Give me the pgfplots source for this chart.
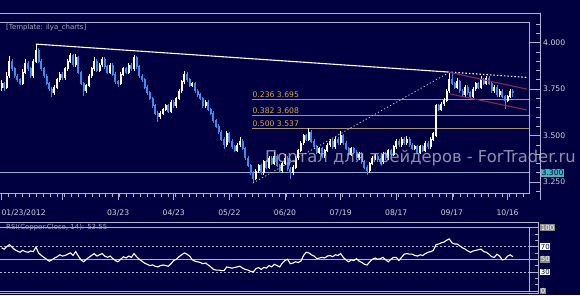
\documentclass[border=0pt]{standalone}
\usepackage{pgfplots}
\pgfplotsset{compat=1.18}
\usepackage{pgfplotstable}
\usepackage{fontspec}
\setmainfont{DejaVu Sans}
\definecolor{bg}{HTML}{000040}
\definecolor{frame}{HTML}{B0B0D0}
\definecolor{upc}{HTML}{FFFFFF}
\definecolor{dnc}{HTML}{3A8EEA}
\definecolor{fibline}{HTML}{A89274}
\definecolor{fibtext}{HTML}{D8A848}
\definecolor{chan}{HTML}{8C2850}
\definecolor{supp}{HTML}{8CB0D0}
\definecolor{tag}{HTML}{40B8C0}
\definecolor{txt}{HTML}{D0D0E0}
\definecolor{txt2}{HTML}{A8A8C8}
\definecolor{labgray}{HTML}{8A8A8A}
\newcommand\tickfont{\fontsize{7.7}{8}\selectfont}
\newcommand\smallfont{\fontsize{7}{8}\selectfont}
\setlength\fboxsep{0.7bp}
\newcommand\gb[1]{\colorbox{labgray}{\textcolor{white}{#1}}}
\newcommand\wb[1]{\colorbox{white}{\textcolor{bg}{#1}}}

\pgfplotstableread{
i o h l c
0 3.76 3.80 3.74 3.78
1 3.78 3.79 3.74 3.76
2 3.76 3.84 3.75 3.82
3 3.82 3.93 3.81 3.90
4 3.90 3.91 3.85 3.86
5 3.86 3.87 3.81 3.82
6 3.82 3.83 3.79 3.80
7 3.80 3.81 3.77 3.78
8 3.78 3.86 3.77 3.84
9 3.84 3.91 3.83 3.89
10 3.89 3.90 3.85 3.86
11 3.86 3.87 3.81 3.82
12 3.82 3.91 3.81 3.90
13 3.90 3.99 3.89 3.96
14 3.96 3.97 3.89 3.90
15 3.90 3.91 3.85 3.86
16 3.86 3.87 3.81 3.82
17 3.82 3.83 3.77 3.78
18 3.78 3.79 3.74 3.75
19 3.75 3.76 3.71 3.73
20 3.73 3.77 3.72 3.76
21 3.76 3.81 3.75 3.80
22 3.80 3.84 3.79 3.83
23 3.83 3.84 3.80 3.81
24 3.81 3.87 3.80 3.86
25 3.86 3.91 3.85 3.90
26 3.90 3.945 3.89 3.93
27 3.93 3.94 3.87 3.88
28 3.88 3.94 3.87 3.92
29 3.92 3.93 3.83 3.84
30 3.84 3.85 3.77 3.78
31 3.78 3.79 3.715 3.74
32 3.74 3.78 3.73 3.77
33 3.77 3.83 3.76 3.82
34 3.82 3.87 3.81 3.86
35 3.86 3.92 3.85 3.90
36 3.90 3.91 3.84 3.85
37 3.85 3.89 3.84 3.88
38 3.88 3.92 3.87 3.91
39 3.91 3.92 3.86 3.87
40 3.87 3.88 3.83 3.84
41 3.84 3.89 3.83 3.88
42 3.88 3.89 3.82 3.83
43 3.83 3.84 3.78 3.79
44 3.79 3.80 3.76 3.78
45 3.78 3.84 3.77 3.83
46 3.83 3.87 3.82 3.86
47 3.86 3.87 3.83 3.84
48 3.84 3.89 3.83 3.88
49 3.88 3.89 3.85 3.86
50 3.86 3.935 3.85 3.92
51 3.92 3.93 3.86 3.87
52 3.87 3.88 3.81 3.82
53 3.82 3.83 3.79 3.80
54 3.80 3.81 3.75 3.76
55 3.76 3.77 3.72 3.73
56 3.73 3.74 3.69 3.70
57 3.70 3.71 3.65 3.66
58 3.66 3.67 3.61 3.62
59 3.62 3.63 3.575 3.60
60 3.60 3.63 3.59 3.62
61 3.62 3.65 3.61 3.64
62 3.64 3.67 3.63 3.66
63 3.66 3.67 3.62 3.63
64 3.63 3.69 3.62 3.68
65 3.68 3.69 3.65 3.66
66 3.66 3.71 3.65 3.70
67 3.70 3.75 3.69 3.74
68 3.74 3.80 3.73 3.79
69 3.79 3.845 3.78 3.83
70 3.83 3.84 3.79 3.80
71 3.80 3.81 3.76 3.77
72 3.77 3.79 3.76 3.78
73 3.78 3.79 3.73 3.74
74 3.74 3.75 3.71 3.72
75 3.72 3.73 3.69 3.70
76 3.70 3.71 3.65 3.66
77 3.66 3.69 3.65 3.68
78 3.68 3.69 3.63 3.64
79 3.64 3.65 3.61 3.62
80 3.62 3.63 3.57 3.58
81 3.58 3.59 3.54 3.55
82 3.55 3.56 3.51 3.52
83 3.52 3.53 3.47 3.48
84 3.48 3.49 3.43 3.45
85 3.45 3.525 3.44 3.51
86 3.51 3.52 3.46 3.47
87 3.47 3.48 3.43 3.44
88 3.44 3.45 3.41 3.42
89 3.42 3.46 3.41 3.45
90 3.45 3.49 3.44 3.47
91 3.47 3.48 3.42 3.43
92 3.43 3.44 3.37 3.38
93 3.38 3.39 3.33 3.34
94 3.34 3.35 3.29 3.30
95 3.30 3.31 3.245 3.27
96 3.27 3.32 3.26 3.31
97 3.31 3.35 3.30 3.34
98 3.34 3.35 3.29 3.30
99 3.30 3.37 3.29 3.36
100 3.36 3.37 3.32 3.33
101 3.33 3.39 3.32 3.38
102 3.38 3.39 3.34 3.35
103 3.35 3.41 3.34 3.39
104 3.39 3.40 3.33 3.34
105 3.34 3.35 3.30 3.31
106 3.31 3.36 3.30 3.35
107 3.35 3.40 3.34 3.38
108 3.38 3.39 3.31 3.32
109 3.32 3.33 3.265 3.30
110 3.30 3.34 3.29 3.33
111 3.33 3.39 3.32 3.38
112 3.38 3.43 3.37 3.42
113 3.42 3.47 3.41 3.46
114 3.46 3.51 3.45 3.50
115 3.50 3.51 3.47 3.48
116 3.48 3.54 3.47 3.52
117 3.52 3.53 3.46 3.47
118 3.47 3.48 3.43 3.44
119 3.44 3.45 3.40 3.41
120 3.41 3.44 3.40 3.43
121 3.43 3.44 3.38 3.39
122 3.39 3.43 3.38 3.42
123 3.42 3.46 3.41 3.45
124 3.45 3.48 3.44 3.47
125 3.47 3.48 3.43 3.44
126 3.44 3.49 3.43 3.48
127 3.48 3.49 3.45 3.46
128 3.46 3.525 3.45 3.50
129 3.50 3.51 3.45 3.46
130 3.46 3.47 3.42 3.43
131 3.43 3.44 3.39 3.40
132 3.40 3.44 3.39 3.43
133 3.43 3.44 3.40 3.41
134 3.41 3.42 3.37 3.38
135 3.38 3.41 3.37 3.40
136 3.40 3.41 3.35 3.36
137 3.36 3.37 3.32 3.33
138 3.33 3.34 3.29 3.31
139 3.31 3.36 3.30 3.35
140 3.35 3.39 3.34 3.38
141 3.38 3.40 3.37 3.39
142 3.39 3.40 3.36 3.37
143 3.37 3.38 3.35 3.36
144 3.36 3.41 3.35 3.40
145 3.40 3.41 3.37 3.38
146 3.38 3.43 3.37 3.42
147 3.42 3.43 3.39 3.40
148 3.40 3.45 3.39 3.44
149 3.44 3.48 3.43 3.47
150 3.47 3.48 3.44 3.45
151 3.45 3.49 3.44 3.48
152 3.48 3.49 3.45 3.46
153 3.46 3.50 3.45 3.48
154 3.48 3.49 3.44 3.45
155 3.45 3.46 3.42 3.43
156 3.43 3.45 3.42 3.44
157 3.44 3.45 3.40 3.41
158 3.41 3.45 3.40 3.44
159 3.44 3.45 3.41 3.42
160 3.42 3.47 3.41 3.46
161 3.46 3.47 3.43 3.44
162 3.44 3.49 3.43 3.48
163 3.48 3.52 3.47 3.51
164 3.50 3.67 3.49 3.66
165 3.66 3.67 3.63 3.64
166 3.64 3.68 3.63 3.67
167 3.67 3.70 3.66 3.69
168 3.69 3.75 3.68 3.74
169 3.74 3.84 3.73 3.80
170 3.80 3.835 3.77 3.78
171 3.78 3.79 3.75 3.76
172 3.76 3.81 3.75 3.79
173 3.79 3.80 3.73 3.74
174 3.74 3.75 3.71 3.72
175 3.72 3.77 3.71 3.76
176 3.76 3.77 3.72 3.73
177 3.73 3.74 3.70 3.71
178 3.71 3.76 3.70 3.75
179 3.75 3.79 3.74 3.78
180 3.78 3.79 3.75 3.76
181 3.76 3.82 3.75 3.80
182 3.80 3.81 3.77 3.78
183 3.78 3.82 3.77 3.81
184 3.81 3.82 3.77 3.78
185 3.78 3.79 3.73 3.74
186 3.74 3.77 3.73 3.76
187 3.76 3.77 3.71 3.72
188 3.72 3.75 3.71 3.74
189 3.74 3.75 3.70 3.71
190 3.71 3.72 3.645 3.69
191 3.69 3.72 3.68 3.71
192 3.71 3.75 3.70 3.74
193 3.74 3.75 3.71 3.73
}\prices

\pgfplotstableread{
i r
0 68
1 66
2 70
3 73
4 69
5 65
6 63
7 61
8 64
9 62
10 61
11 63
12 62
13 69
14 60
15 56
16 53
17 50
18 47
19 49
20 52
21 54
22 57
23 55
24 56
25 58
26 60
27 56
28 62
29 55
30 49
31 46
32 50
33 53
34 56
35 59
36 55
37 57
38 59
39 55
40 53
41 55
42 51
43 48
44 46
45 50
46 54
47 52
48 55
49 53
50 59
51 54
52 50
53 47
54 44
55 42
56 40
57 41
58 39
59 38
60 40
61 41
62 40
63 39
64 43
65 48
66 50
67 54
68 57
69 60
70 58
71 55
72 49
73 47
74 46
75 45
76 43
77 44
78 41
79 38
80 34
81 33
82 33
83 32
84 32
85 38
86 37
87 36
88 37
89 38
90 39
91 36
92 34
93 33
94 31
95 30
96 35
97 37
98 34
99 37
100 36
101 40
102 38
103 42
104 40
105 38
106 44
107 48
108 50
109 43
110 44
111 46
112 45
113 47
114 56
115 61
116 60
117 57
118 55
119 51
120 52
121 53
122 52
123 55
124 56
125 54
126 57
127 56
128 59
129 53
130 49
131 46
132 49
133 48
134 51
135 47
136 45
137 42
138 41
139 46
140 50
141 52
142 50
143 51
144 53
145 49
146 46
147 50
148 53
149 53
150 48
151 53
152 58
153 59
154 58
155 58
156 56
157 55
158 57
159 56
160 59
161 61
162 62
163 64
164 73
165 74
166 76
167 77
168 80
169 82
170 76
171 74
172 74
173 71
174 68
175 66
176 63
177 61
178 63
179 64
180 65
181 66
182 62
183 61
184 58
185 54
186 53
187 58
188 55
189 49
190 50
191 55
192 57
193 54
}\rsi

\begin{document}
\begin{tikzpicture}[x=1bp,y=1bp]
\fill[bg] (0,0) rectangle (580,-295);
\useasboundingbox (0,0) rectangle (580,-295);

% ---- x tick axis for price pane
\begin{axis}[
  at={(0bp,-193bp)}, anchor=south west,
  scale only axis, width=529bp, height=171bp,
  xmin=-0.57, xmax=199.1, ymin=0, ymax=1,
  axis x line*=bottom, axis y line=none,
  axis line style={draw=none},
  xtick={0,23,44,65,86,107,128,149,170,191},
  xticklabels={\rlap{01/23/2012},,03/23,04/23,05/22,06/20,07/19,08/17,09/17,10/16},
  minor xtick={0,2.625,...,199},
  tick align=outside, major tick length=7bp, minor tick length=4bp,
  tick style={frame, line width=0.7bp},
  xticklabel style={font=\tickfont, text=txt, anchor=north, inner sep=0pt, yshift=-9.5bp},
]
\end{axis}

% ---- price pane
\begin{axis}[
  at={(0bp,-193bp)}, anchor=south west,
  scale only axis, width=529bp, height=171bp,
  xmin=-0.57, xmax=199.1, ymin=3.1914, ymax=4.1108,
  axis line style={draw=none},
  xtick=\empty,
  ytick={3.25,3.5,3.75,4.0},
  yticklabels={3.250,3.500,3.750,4.000},
  minor ytick={3.2,3.25,...,4.1},
  ytick pos=right, yticklabel pos=right,
  tick align=outside,
  major tick length=11bp, minor tick length=4bp,
  tick style={frame, line width=0.7bp},
  minor y tick style={xshift=7bp},
  yticklabel style={font=\tickfont, text=txt, anchor=west, inner sep=0pt, xshift=3bp},
  clip mode=individual,
]
\addplot[supp, line width=0.9bp, forget plot] coordinates {(-0.57,3.30) (199.1,3.30)};
\addplot[fibline, line width=0.9bp, forget plot] coordinates {(94.5,3.695) (199.1,3.695)};
\addplot[fibline, line width=0.9bp, forget plot] coordinates {(94.5,3.608) (199.1,3.608)};
\addplot[fibline, line width=0.9bp, forget plot] coordinates {(94.5,3.537) (199.1,3.537)};

% up candles
\addplot[draw=none, mark=none, forget plot,
  restrict expr to domain={\thisrow{c}-\thisrow{o}}{0:10},
  error bars/.cd, y dir=both, y explicit, error mark=none,
  error bar style={draw=upc, line width=0.8bp}]
  table[x=i, y expr={(\thisrow{h}+\thisrow{l})/2}, y error expr={(\thisrow{h}-\thisrow{l})/2}] {\prices};
\addplot[draw=none, mark=none, forget plot,
  restrict expr to domain={\thisrow{c}-\thisrow{o}}{0:10},
  error bars/.cd, y dir=both, y explicit, error mark=none,
  error bar style={draw=upc, line width=2.0bp}]
  table[x=i, y expr={(\thisrow{o}+\thisrow{c})/2}, y error expr={abs(\thisrow{c}-\thisrow{o})/2+0.002}] {\prices};
% down candles
\addplot[draw=none, mark=none, forget plot,
  restrict expr to domain={\thisrow{c}-\thisrow{o}}{-10:-0.00001},
  error bars/.cd, y dir=both, y explicit, error mark=none,
  error bar style={draw=dnc, line width=0.8bp}]
  table[x=i, y expr={(\thisrow{h}+\thisrow{l})/2}, y error expr={(\thisrow{h}-\thisrow{l})/2}] {\prices};
\addplot[draw=none, mark=none, forget plot,
  restrict expr to domain={\thisrow{c}-\thisrow{o}}{-10:-0.00001},
  error bars/.cd, y dir=both, y explicit, error mark=none,
  error bar style={draw=dnc, line width=2.0bp}]
  table[x=i, y expr={(\thisrow{o}+\thisrow{c})/2}, y error expr={abs(\thisrow{c}-\thisrow{o})/2+0.002}] {\prices};

% trend lines
\addplot[white, line width=1.1bp, forget plot] coordinates {(13,3.992) (168.5,3.842)};
\addplot[white, line width=1.1bp, dash pattern=on 1.5bp off 2bp, forget plot] coordinates {(168.5,3.842) (198.3,3.813)};
\addplot[white!80!bg, line width=0.8bp, dash pattern=on 1.2bp off 2.3bp, forget plot] coordinates {(94.9,3.245) (168.5,3.836)};
\addplot[chan, line width=1.1bp, forget plot] coordinates {(168.5,3.842) (198.3,3.750)};
\addplot[chan, line width=1.1bp, forget plot] coordinates {(169.3,3.724) (198.3,3.638)};

\node[anchor=south west, inner sep=0pt, text=fibtext, font=\tickfont] at (axis cs:94.7,3.695) [yshift=1.6bp] {0.236 3.695};
\node[anchor=south west, inner sep=0pt, text=fibtext, font=\tickfont] at (axis cs:94.7,3.608) [yshift=1.6bp] {0.382 3.608};
\node[anchor=south west, inner sep=0pt, text=fibtext, font=\tickfont] at (axis cs:94.7,3.537) [yshift=1.6bp] {0.500 3.537};
\end{axis}

% ---- RSI pane
\begin{axis}[
  at={(0bp,-291bp)}, anchor=south west,
  scale only axis, width=529bp, height=63.5bp,
  xmin=-0.57, xmax=199.1, ymin=0, ymax=100,
  axis line style={draw=none}, xtick=\empty,
  ytick={0,30,50,70,100},
  yticklabels={\gb{0},\wb{30},\gb{50},\wb{70},\gb{100}},
  minor ytick={10,20,40,60,80,90},
  ytick pos=right, yticklabel pos=right, tick align=outside,
  major tick length=9bp, minor tick length=3bp,
  minor y tick style={xshift=6bp},
  tick style={frame, line width=0.7bp},
  yticklabel style={font=\smallfont, anchor=west, inner sep=0pt, xshift=2bp},
  clip mode=individual,
]
\addplot[frame, line width=0.7bp, dash pattern=on 2bp off 2bp, forget plot] coordinates {(-0.57,70) (199.1,70)};
\addplot[frame, line width=0.7bp, dash pattern=on 2bp off 2bp, forget plot] coordinates {(-0.57,30) (199.1,30)};
\addplot[frame, line width=0.7bp, forget plot] coordinates {(-0.57,50) (199.1,50)};
\addplot[white, line width=1.1bp, forget plot] table[x=i, y=r] {\rsi};
\end{axis}

% frames
\draw[frame, line width=0.8bp] (0,-13) -- (540,-13) -- (540,-200);
\draw[frame, line width=0.8bp] (0,-22) -- (529,-22) -- (529,-193) -- (0,-193);
\draw[frame, line width=0.8bp] (0,-222) -- (538,-222) -- (538,-293.5) -- (0,-293.5);
\draw[frame, line width=0.8bp] (0,-227.5) -- (529,-227.5) -- (529,-291) -- (0,-291);

% texts
\node[anchor=west, inner sep=0pt, text=txt2, font=\smallfont] at (6,-27.5) {[Template: ilya\_charts]};
\node[anchor=west, inner sep=0pt, text=txt2, font=\smallfont] at (6,-228) {RSI(Copper.Close, 14): 53.55};
\node[anchor=west, fill=tag, text=bg, font=\tickfont, inner sep=0.9bp] at (540.5,-172.8) {3.300};
\node[anchor=west, inner sep=0pt, text=white!75!bg, text opacity=0.75, font=\fontsize{16.4}{17}\selectfont] at (265,-158) {Портал для трейдеров - ForTrader.ru};
\end{tikzpicture}
\end{document}
